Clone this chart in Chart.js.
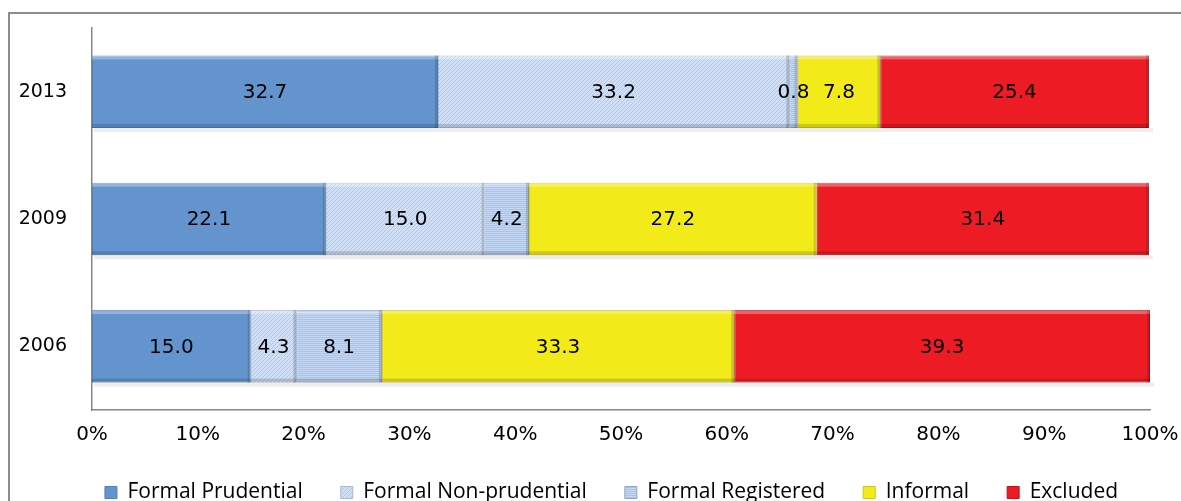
<!DOCTYPE html>
<html>
<head>
<meta charset="utf-8">
<script src="https://cdn.jsdelivr.net/npm/chart.js@4"></script>
<style>
  html, body { margin: 0; padding: 0; background: #fff; }
  #wrap { position: relative; width: 1181px; height: 501px; overflow: hidden; }
  #frame { position: absolute; left: 8px; top: 12px; width: 1200px; height: 600px;
           border-left: 2px solid #8c8c8c; border-top: 2px solid #8c8c8c; }
  canvas { position: absolute; left: 0; top: 0; }
</style>
</head>
<body>
<div id="wrap">
  <div id="frame"></div>
  <canvas id="chart" width="1181" height="513"></canvas>
</div>
<script>
const years = ['2013', '2009', '2006'];
const seriesNames = ['Formal Prudential', 'Formal Non-prudential', 'Formal Registered', 'Informal', 'Excluded'];
const formalPrudential = [32.7, 22.1, 15.0];
const formalNonPrudential = [33.2, 15.0, 4.3];
const formalRegistered = [0.8, 4.2, 8.1];
const informal = [7.8, 27.2, 33.3];
const excluded = [25.4, 31.4, 39.3];
const xTicks = [0, 10, 20, 30, 40, 50, 60, 70, 80, 90, 100];

// small canvas patterns for the hatched blue fills
function makePattern(base, line, kind) {
  const c = document.createElement('canvas');
  c.width = 4; c.height = 4;
  const g = c.getContext('2d');
  g.fillStyle = base;
  g.fillRect(0, 0, 4, 4);
  g.fillStyle = line;
  if (kind === 'diag') {
    for (let i = 0; i < 4; i++) g.fillRect(i, 3 - i, 1, 1);
  } else {
    g.fillRect(0, 0, 4, 1);
    g.fillRect(0, 2, 4, 1);
  }
  return g.createPattern(c, 'repeat');
}

const ctx0 = document.getElementById('chart').getContext('2d');
const fills = [
  '#6394cd',
  makePattern('#d0dff3', '#b2c8e6', 'diag'),
  makePattern('#aac3e6', '#c6d7ef', 'horiz'),
  '#f2ea19',
  '#ed1c24'
];
const borders = ['#4f7fb8', '#a3b9d8', '#8aa6cc', '#cfc812', '#b8141a'];
const values = [formalPrudential, formalNonPrudential, formalRegistered, informal, excluded];

// bevel look + faint shadow under each bar
const bevelPlugin = {
  id: 'bevel',
  beforeDatasetsDraw(chart) {
    const ctx = chart.ctx;
    ctx.save();
    ctx.fillStyle = 'rgba(0,0,0,0.07)';
    const first = chart.getDatasetMeta(0).data;
    const last = chart.getDatasetMeta(values.length - 1).data;
    first.forEach((bar, i) => {
      const x0 = bar.base, x1 = last[i].x;
      ctx.fillRect(x0 + 2, bar.y + bar.height / 2, x1 - x0 + 2, 4);
    });
    ctx.restore();
  },
  afterDatasetsDraw(chart) {
    const ctx = chart.ctx;
    ctx.save();
    chart.data.datasets.forEach((ds, di) => {
      chart.getDatasetMeta(di).data.forEach(bar => {
        const x0 = Math.min(bar.base, bar.x), x1 = Math.max(bar.base, bar.x);
        const top = bar.y - bar.height / 2, bot = bar.y + bar.height / 2;
        const w = x1 - x0;
        if (w < 2) return;
        ctx.fillStyle = 'rgba(255,255,255,0.3)';
        ctx.fillRect(x0, top, w, 4);
        ctx.fillStyle = 'rgba(0,0,0,0.15)';
        ctx.fillRect(x0, bot - 4, w, 4);
        ctx.fillRect(x1 - 3, top, 3, bar.height);
      });
    });
    ctx.restore();
  }
};

const labelPlugin = {
  id: 'barLabels',
  afterDatasetsDraw(chart) {
    const ctx = chart.ctx;
    ctx.save();
    ctx.font = '20px "DejaVu Sans"';
    ctx.fillStyle = '#000';
    ctx.textAlign = 'center';
    ctx.textBaseline = 'middle';
    chart.data.datasets.forEach((ds, di) => {
      chart.getDatasetMeta(di).data.forEach((bar, i) => {
        ctx.fillText(ds.data[i].toFixed(1), (bar.x + bar.base) / 2, bar.y + 1);
      });
    });
    ctx.restore();
  }
};

// the legend row in the original sits a little right of centre
const legendShift = {
  id: 'legendShift',
  afterLayout(chart) {
    chart.legend.left += 12;
    chart.legend.right += 12;
  }
};

new Chart(ctx0, {
  type: 'bar',
  data: {
    labels: years,
    datasets: seriesNames.map((name, i) => ({
      label: name,
      data: values[i],
      backgroundColor: fills[i],
      borderColor: borders[i],
      borderWidth: 1,
      borderSkipped: false,
      barPercentage: 0.57,
      categoryPercentage: 1.0
    }))
  },
  options: {
    indexAxis: 'y',
    responsive: false,
    animation: false,
    devicePixelRatio: 1,
    layout: { padding: { top: 28, left: 18, right: 0, bottom: 0 } },
    scales: {
      x: {
        stacked: true,
        min: 0,
        max: 100,
        afterBuildTicks: scale => { scale.ticks = xTicks.map(v => ({ value: v })); },
        afterFit: scale => {
          scale.height = 34;
          scale.paddingLeft = 0;
          scale.paddingRight = 31;
        },
        grid: { display: false, drawTicks: false },
        border: { display: true, color: '#868686', width: 1.5 },
        ticks: {
          color: '#000',
          font: { family: 'DejaVu Sans', size: 20 },
          padding: 13,
          maxRotation: 0,
          callback: v => v + '%'
        }
      },
      y: {
        stacked: true,
        afterFit: scale => {
          scale.width = 74;
          scale.paddingTop = 0;
          scale.paddingBottom = 0;
        },
        grid: { display: false, drawTicks: false },
        border: { display: true, color: '#868686', width: 1.5 },
        ticks: {
          color: '#000',
          font: { family: 'DejaVu Sans', size: 19 },
          padding: 25
        }
      }
    },
    plugins: {
      legend: {
        position: 'bottom',
        labels: {
          color: '#000',
          font: { family: 'Open Sans', size: 21 },
          boxWidth: 12,
          boxHeight: 12,
          padding: 38
        }
      },
      tooltip: { enabled: false }
    }
  },
  plugins: [bevelPlugin, labelPlugin, legendShift]
});
</script>
</body>
</html>
